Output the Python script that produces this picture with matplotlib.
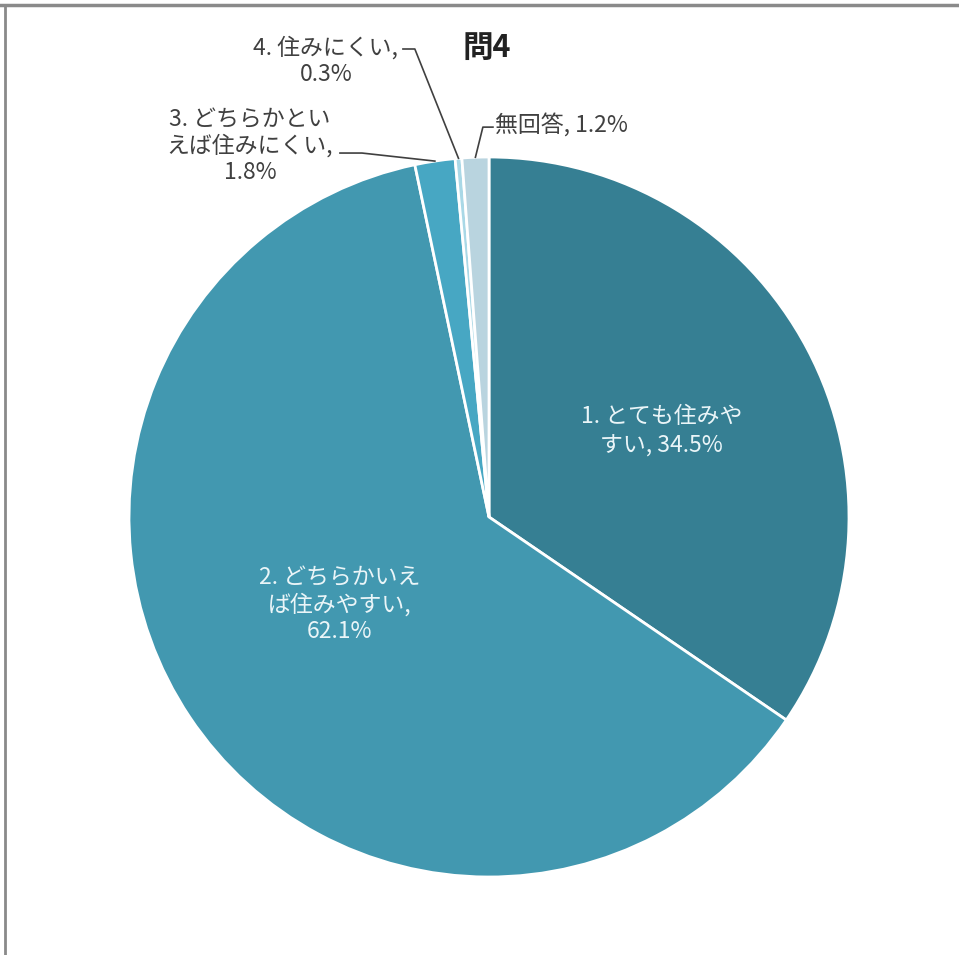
import matplotlib
matplotlib.use("Agg")
import matplotlib.pyplot as plt
from matplotlib.lines import Line2D
import numpy as np

plt.rcParams['font.family'] = ['Noto Sans CJK JP', 'DejaVu Sans']

# data
labels = ["1. とても住みや\nすい, 34.5%",
          "2. どちらかいえ\nば住みやすい,\n62.1%",
          "3. どちらかとい\nえば住みにくい,\n1.8%",
          "4. 住みにくい,\n0.3%",
          "無回答, 1.2%"]
values = [34.5, 62.1, 1.8, 0.3, 1.2]
colors = ["#367f93", "#4298b0", "#47a7c3", "#a9d8e6", "#b9d4df"]
title = "問4"

W, H = 959, 955
fig = plt.figure(figsize=(W / 100, H / 100), dpi=100)
ax = fig.add_axes([129 / W, 78 / H, 720 / W, 720 / H])

wedges, _ = ax.pie(values, colors=colors, startangle=90, counterclock=False,
                   radius=1.0, wedgeprops=dict(edgecolor="white", linewidth=2))
ax.set_xlim(-1, 1)
ax.set_ylim(-1, 1)
ax.axis("off")

inside = "#eaf5f8"
outside = "#404040"
fs = 16.5

# labels inside the pie
ax.text(0.48, 0.238, labels[0], ha="center", va="center", color=inside,
        fontsize=fs, linespacing=1.4)
ax.text(-0.414, -0.244, labels[1], ha="center", va="center", color=inside,
        fontsize=fs, linespacing=1.2)

# labels outside with leader lines to wedge middles
def wedge_point(i, r=1.0):
    w = wedges[i]
    ang = np.deg2rad((w.theta1 + w.theta2) / 2)
    return r * np.cos(ang), r * np.sin(ang)

ax.text(-0.664, 1.03, labels[2], ha="center", va="center", color=outside,
        fontsize=fs, linespacing=1.15)
ax.text(-0.453, 1.267, labels[3], ha="center", va="center", color=outside,
        fontsize=fs, linespacing=1.15)
ax.text(0.017, 1.089, labels[4], ha="left", va="center", color=outside,
        fontsize=fs)

knees = {2: [(-0.414, 1.011), (-0.353, 1.011)],
         3: [(-0.239, 1.30), (-0.206, 1.30)],
         4: [(0.011, 1.083), (-0.017, 1.083)]}
for i, pts in knees.items():
    px, py = wedge_point(i)
    xs = [p[0] for p in pts] + [px]
    ys = [p[1] for p in pts] + [py]
    ax.plot(xs, ys, color="#404040", lw=1.2, clip_on=False)

ax.text(-0.006, 1.303, title, ha="center", va="center", color="#222222",
        fontsize=22, fontweight="bold")

# frame edges (top and left)
fig.add_artist(Line2D([0, 1], [1 - 5 / H, 1 - 5 / H], color="#8a8a8a", lw=2.5))
fig.add_artist(Line2D([5 / W, 5 / W], [0, 1 - 5 / H], color="#8a8a8a", lw=2))

fig.savefig("out.png", dpi=100, facecolor="white")
